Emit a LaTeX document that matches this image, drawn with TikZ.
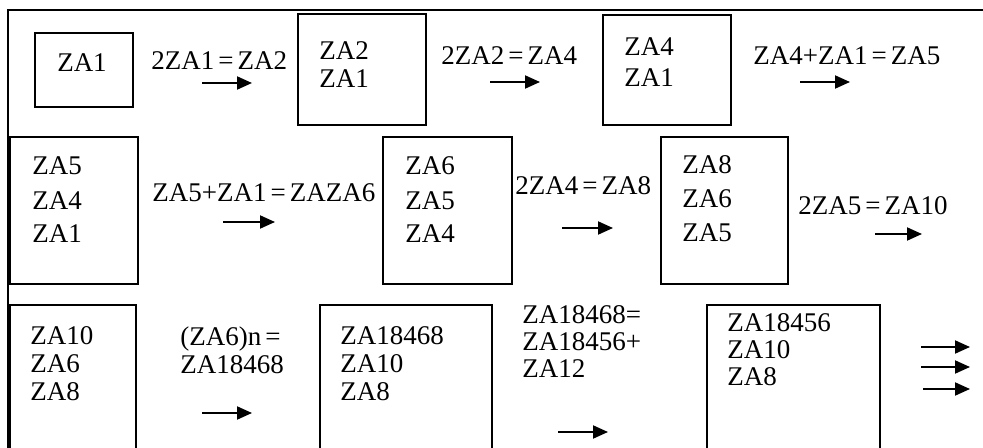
\documentclass[tikz,border=0pt]{standalone}
\usepackage{fontspec}
\setmainfont{Liberation Serif}
\usetikzlibrary{arrows.meta}

\newcommand{\eqq}{\kern2pt=\kern2pt}

\tikzset{
	box/.style={draw, line width=0.75pt, inner sep=0pt, outer sep=0pt},
	txt/.style={inner sep=0pt, anchor=base west, align=left, font=\fontsize{13.5}{14}\selectfont},
	arr/.style={line width=1pt, -{Triangle[length=7.5pt,width=6.5pt]}}
}

\begin{document}
\begin{tikzpicture}[x=0.5pt,y=-0.5pt]

	\useasboundingbox (0,0) rectangle (983,448);
	\clip (0,0) rectangle (983,448);

	% frame
	\draw[line width=1pt] (8,480) -- (8,10) -- (990,10);

	% first row (multi-line texts sit on their last line)
	\node[box, minimum width=49pt, minimum height=37pt] (b1) at (84,70) {};
	\node[box, minimum width=64pt, minimum height=55.5pt] (b2) at (362,69.5) {};
	\node[box, minimum width=64pt, minimum height=55pt] (b3) at (667,70) {};
	\node[txt, anchor=base] (t1) at (82,72) {ZA1};
	\node[txt] (t2) at (319,88) {ZA2\\ZA1};
	\node[txt, font=\fontsize{13.5}{15.5}\selectfont] (t3) at (624,87) {ZA4\\ZA1};
	\node[txt] (l1) at (151,70) {2ZA1\eqq ZA2};
	\node[txt] (l2) at (441,65) {2ZA2\eqq ZA4};
	\node[txt] (l3) at (753,65) {ZA4+ZA1\eqq ZA5};

	% second row
	\node[box, minimum width=64pt, minimum height=73.5pt] (b4) at (74,210.5) {};
	\node[box, minimum width=64.5pt, minimum height=73.5pt] (b5) at (447.5,210.5) {};
	\node[box, minimum width=63.5pt, minimum height=73.5pt] (b6) at (724.5,210.5) {};
	\node[txt, font=\fontsize{13.5}{17}\selectfont] (t4) at (32,243) {ZA5\\ZA4\\ZA1};
	\node[txt, font=\fontsize{13.5}{17}\selectfont] (t5) at (405,243) {ZA6\\ZA5\\ZA4};
	\node[txt, font=\fontsize{13.5}{17}\selectfont] (t6) at (682,242) {ZA8\\ZA6\\ZA5};
	\node[txt] (l4) at (152,202) {ZA5+ZA1\eqq ZAZA6};
	\node[txt] (l5) at (515,195) {2ZA4\eqq ZA8};
	\node[txt] (l6) at (798,215) {2ZA5\eqq ZA10};

	% third row (cut at the bottom)
	\node[box, minimum width=63pt, minimum height=90pt] (b7) at (73,395) {};
	\node[box, minimum width=86pt, minimum height=90pt] (b8) at (406,395) {};
	\node[box, minimum width=86.5pt, minimum height=90pt] (b9) at (793.5,395) {};
	\node[txt] (t7) at (30,400) {ZA10\\ZA6\\ZA8};
	\node[txt] (t8) at (340,400) {ZA18468\\ZA10\\ZA8};
	\node[txt, font=\fontsize{13.5}{13.5}\selectfont] (t9) at (727,385) {ZA18456\\ZA10\\ZA8};
	\node[txt] (l7) at (180,373) {(ZA6)n\eqq\\ZA18468};
	\node[txt, font=\fontsize{13.5}{13.5}\selectfont] (l8) at (522,377) {ZA18468=\\ZA18456+\\ZA12};

	% arrows
	\foreach \i/\xa/\xb/\yy in {1/202/252/83, 2/490/540/82, 3/800/850/82,
		4/223/275/222, 5/562/613/228, 6/875/922/234,
		7/202/252/413, 8/558/608/432,
		9/921/970/347, 10/921/970/367, 11/923/970/389}
	{
		\coordinate (s\i) at (\xa,\yy);
		\coordinate (e\i) at (\xb,\yy);
		\draw[arr] (s\i) -- (e\i);
	}

\end{tikzpicture}
\end{document}
